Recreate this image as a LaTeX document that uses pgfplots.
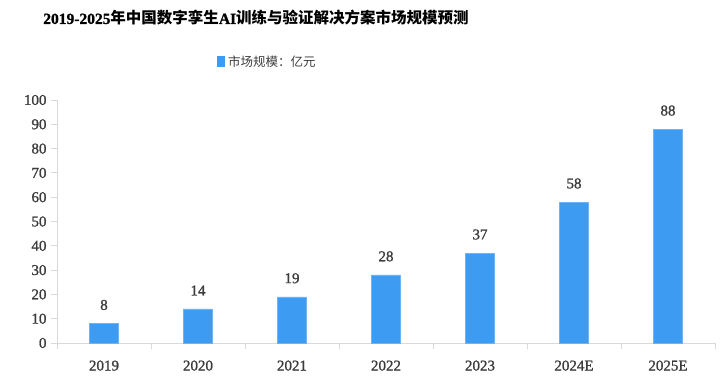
\documentclass[border=0pt]{standalone}
\usepackage{fontspec}
\setmainfont{Liberation Serif}[RawFeature={embolden=1.2}]
\newfontfamily\cjk{Noto Sans CJK SC}
\usepackage{pgfplots}
\pgfplotsset{compat=1.18}
\definecolor{barblue}{RGB}{61,155,242}
\definecolor{axgray}{RGB}{217,217,217}
\definecolor{txt}{RGB}{60,60,60}
\begin{document}
\begin{tikzpicture}[x=1pt,y=1pt]
\useasboundingbox (0,0) rectangle (721,382);
\node[font=\fontsize{15.5}{15.5}\selectfont\bfseries, text=black] at (256,364) {2019-2025{\cjk 年中国数字孪生}AI{\cjk 训练与验证解决方案市场规模预测}};
\fill[barblue] (217,314.5) rectangle (224.5,325.5);
\node[anchor=west, font=\cjk\fontsize{12.5}{12.5}\selectfont, text=txt, inner sep=0pt] at (228,320) {市场规模：亿元};
\begin{axis}[
  at={(57pt,39pt)}, anchor=south west,
  width=658pt, height=243pt, scale only axis,
  /pgf/number format/assume math mode=true,
  xmin=-0.5, xmax=6.5, ymin=0, ymax=100,
  ytick={0,10,...,100},
  xtick={0,...,6},
  xticklabels={2019,2020,2021,2022,2023,2024E,2025E},
  minor xtick={-0.5,0.5,...,6.5},
  axis x line*=bottom, axis y line*=left,
  axis line style={-, axgray, line width=0.8pt},
  tick align=outside,
  major tick length=6pt, minor tick length=6pt,
  x tick style={draw=none},
  minor x tick style={draw=axgray, line width=0.8pt},
  y tick style={draw=axgray, line width=0.8pt},
  tick label style={font=\fontsize{15}{15}\selectfont, text=txt},
  xticklabel style={yshift=-8pt},
  yticklabel style={xshift=-1pt},
  ybar, bar width=29pt,
  clip=false,
  nodes near coords,
  every node near coord/.append style={font=\fontsize{15}{15}\selectfont, text=txt, yshift=10pt},
]
\addplot[fill=barblue, draw=barblue!75!white] coordinates {(0,8) (1,14) (2,19) (3,28) (4,37) (5,58) (6,88)};
\end{axis}
\end{tikzpicture}
\end{document}
